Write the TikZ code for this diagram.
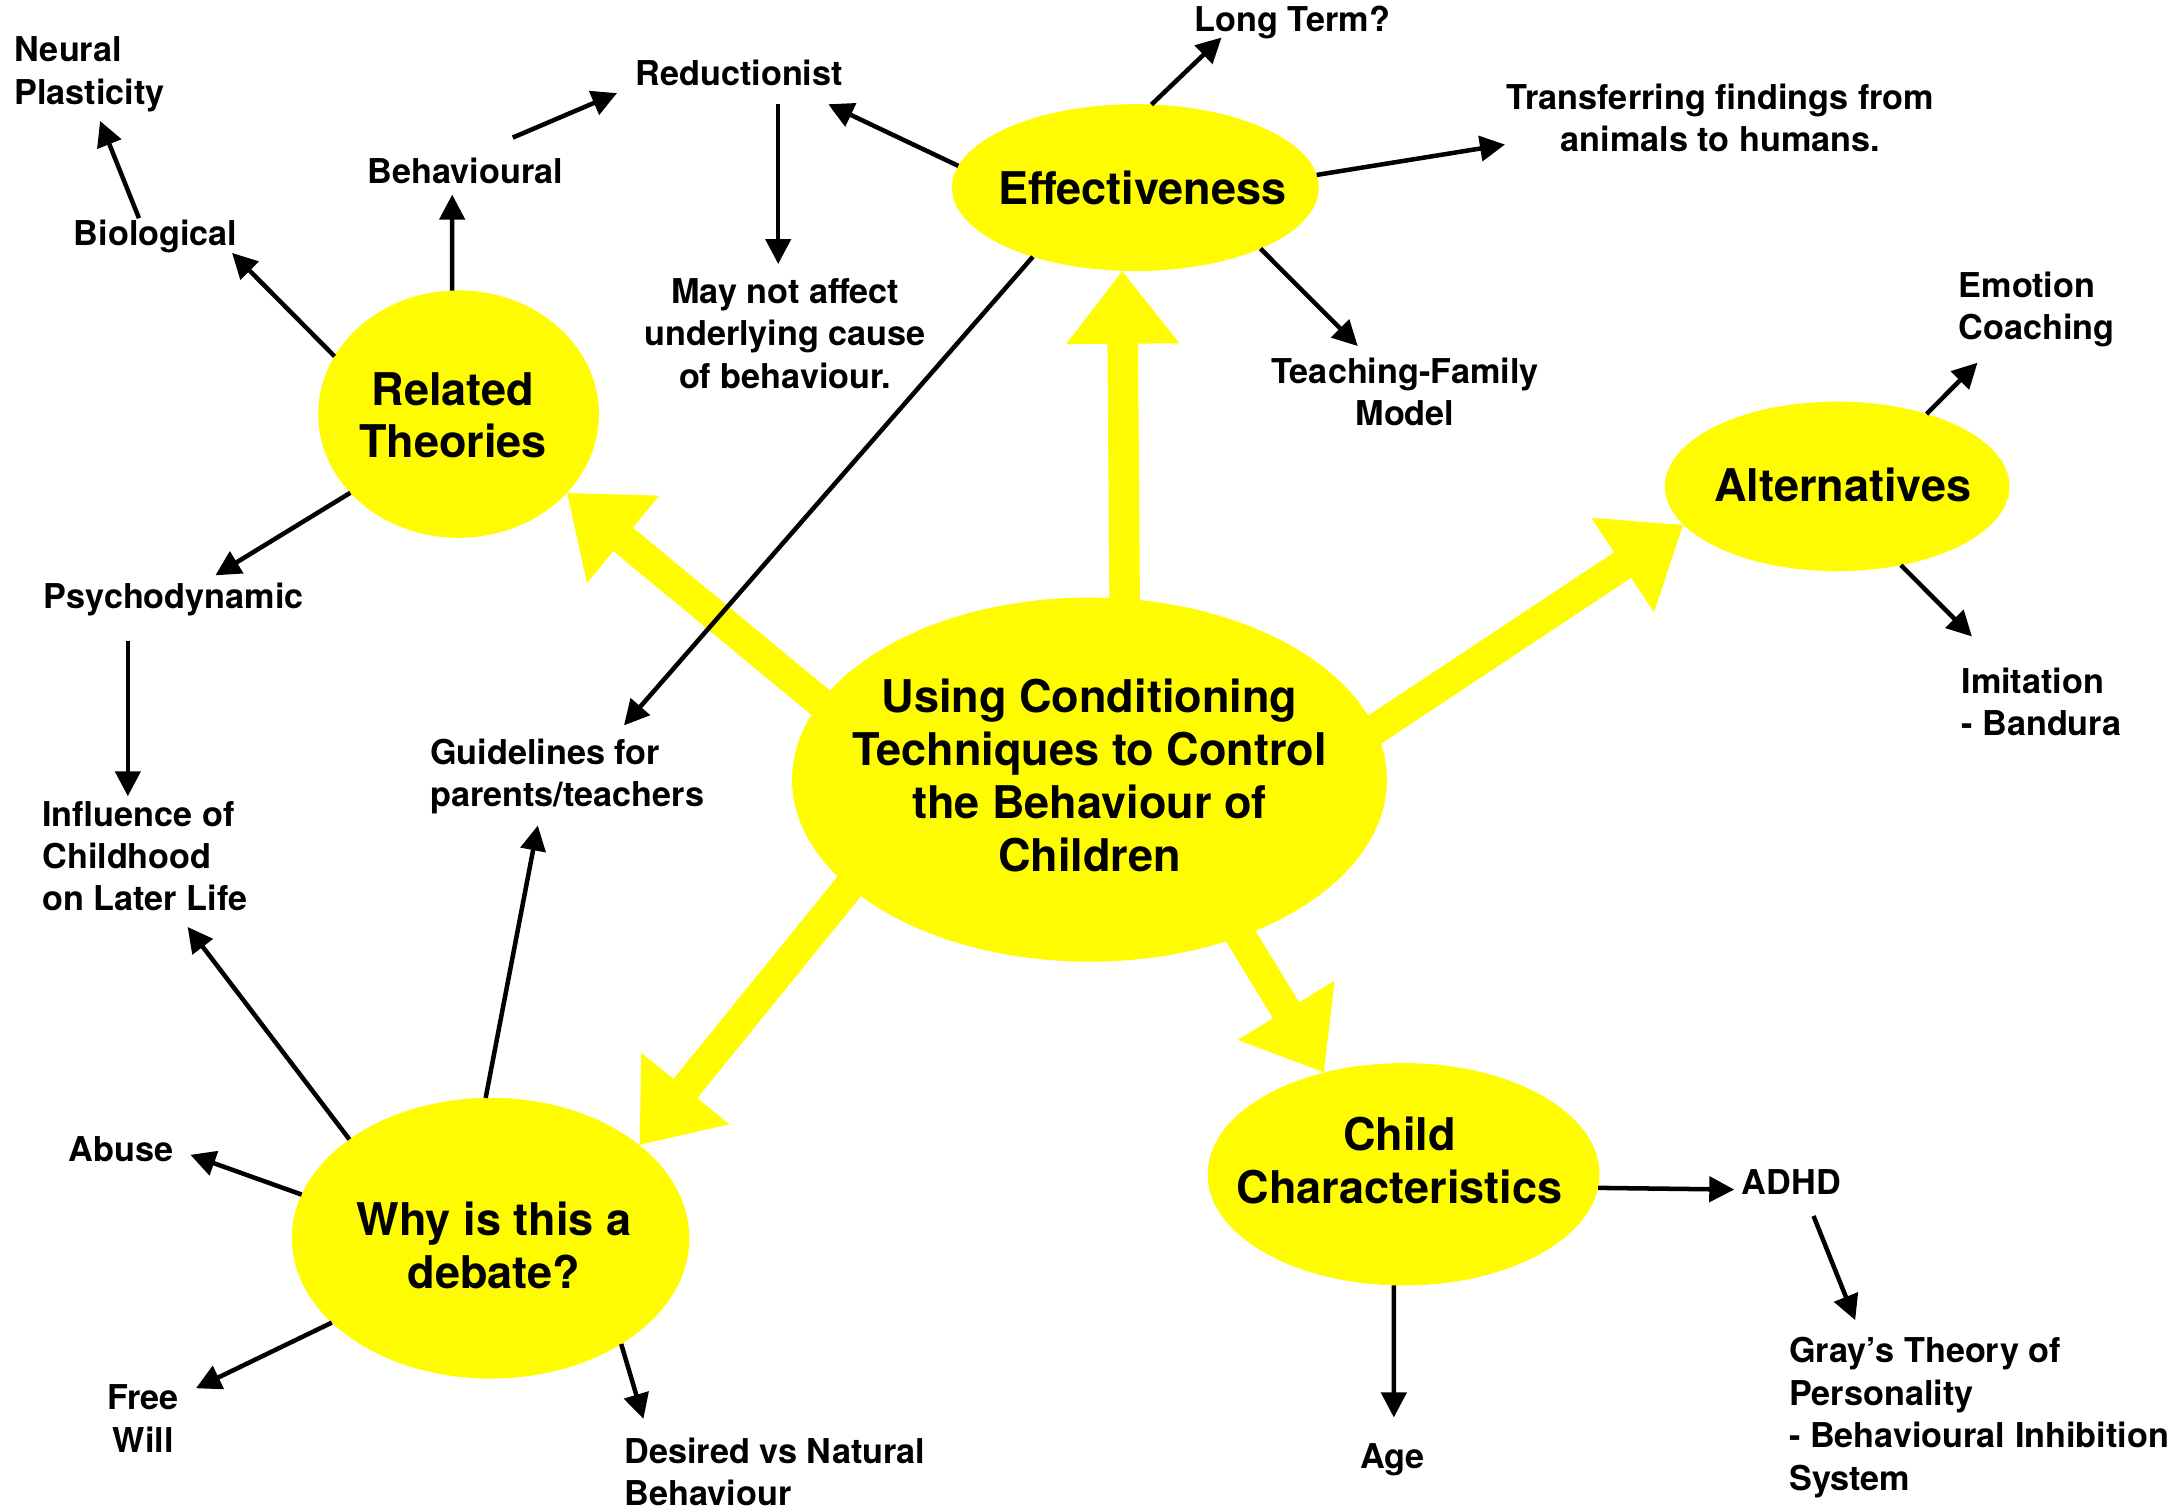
\documentclass[tikz,border=0pt]{standalone}
\usepackage{fontspec}
\setmainfont{TeX Gyre Heros}
\usetikzlibrary{arrows.meta,shapes.geometric}
\pgfdeclarelayer{background}
\pgfsetlayers{background,main}
\definecolor{hl}{RGB}{255,251,0}
\begin{document}
\begin{tikzpicture}[x=0.4pt,y=-0.4pt,
  bubble/.style={ellipse, fill=hl, inner sep=0pt, outer sep=0pt},
  bigtxt/.style={font=\fontsize{12.97}{15.2}\selectfont\bfseries, align=center, inner sep=0pt, anchor=north},
  lbl/.style={font=\fontsize{9.85}{12.2}\selectfont\bfseries, inner sep=0pt, text height=7.1pt, text depth=0pt},
  lblL/.style={font=\fontsize{9.85}{12.2}\selectfont\bfseries, inner sep=0pt, align=left, anchor=north west},
  lblC/.style={font=\fontsize{9.85}{12.2}\selectfont\bfseries, inner sep=0pt, align=center, anchor=north},
  arr/.style={-{Triangle[width=7.2pt,length=7.2pt]}, line width=1.3pt},
  bigarr/.style={-{Triangle[width=31.2pt,length=21pt]}, line width=8.8pt, draw=hl, shorten <=-14pt}
]
\useasboundingbox (0,0) rectangle (1568,1086.6);

% ellipses
\node[bubble, minimum width=171.2pt, minimum height=104.8pt] (main) at (784,561) {};
\node[bubble, minimum width=105.6pt, minimum height=48pt] (eff) at (817,135) {};
\node[bubble, minimum width=80.8pt, minimum height=71.2pt] (rt) at (330,298) {};
\node[bubble, minimum width=99.2pt, minimum height=48.8pt] (alt) at (1322,350) {};
\node[bubble, minimum width=114.4pt, minimum height=80.8pt] (why) at (353,891) {};
\node[bubble, minimum width=112.8pt, minimum height=64pt] (child) at (1010,845) {};

% ellipse texts
\node[bigtxt] (mainT) at (784,488.3) {Using Conditioning\\Techniques to Control\\the Behaviour of\\Children};
\node[bigtxt] (effT) at (822,122.3) {Effectiveness};
\node[bigtxt] (rtT) at (326,267.3) {Related\\Theories};
\node[bigtxt] (altT) at (1326,336.3) {Alternatives};
\node[bigtxt] (whyT) at (355.5,864.3) {Why is this a\\debate?};
\node[bigtxt] (childT) at (1007,803.3) {Child\\Characteristics};

% labels
\node[lblL] (np) at (10,26) {Neural\\Plasticity};
\node[lbl] (bio) at (112,168) {Biological};
\node[lbl] (beh) at (335,123) {Behavioural};
\node[lbl] (red) at (532,53) {Reductionist};
\node[lbl] (lt) at (930,14) {Long Term?};
\node[lblC] (tr) at (1238,60) {Transferring findings from\\animals to humans.};
\node[lblC] (may) at (565,200) {May not affect\\underlying cause\\of behaviour.};
\node[lblC] (tf) at (1011,257) {Teaching-Family\\Model};
\node[lblL] (ec) at (1409,195) {Emotion\\Coaching};
\node[lblL] (imi) at (1411,480) {Imitation\\- Bandura};
\node[lbl] (psy) at (125,429) {Psychodynamic};
\node[lblL] (gui) at (309,531) {Guidelines for\\parents/teachers};
\node[lblL] (inf) at (30,576) {Influence of\\Childhood\\on Later Life};
\node[lbl] (abuse) at (87,827) {Abuse};
\node[lblC] (fw) at (103,996) {Free\\Will};
\node[lblL] (des) at (449,1034) {Desired vs Natural\\Behaviour};
\node[lbl] (adhd) at (1289,851) {ADHD};
\node[lblL] (gray) at (1287,962) {Gray’s Theory of\\Personality\\- Behavioural Inhibition\\System};
\node[lbl] (age) at (1002,1048) {Age};

% big yellow arrows
\begin{pgfonlayer}{background}
\draw[bigarr] (main.79.9) -- (eff.-99.5);
\draw[bigarr] (main.164.4) -- (rt.-36.9);
\draw[bigarr] (main.10.8) -- (alt.-166);
\draw[bigarr] (main.-156.4) -- (why.32.5);
\draw[bigarr] (main.-46.2) -- (child.128.9);
\end{pgfonlayer}

% black arrows
\draw[arr] (rt.155) -- ([shift={(55,14)}]bio.center);
\draw[arr] ([shift={(-12,-11)}]bio.center) -- ([shift={(62,61)}]np.north west);
\draw[arr] (rt.93) -- ([shift={(-9.6,17)}]beh.center);
\draw[arr] ([shift={(34,-24)}]beh.center) -- ([shift={(-88,14)}]red.center);
\draw[arr] (eff.173.8) -- ([shift={(64,22)}]red.center);
\draw[arr] ([shift={(28,22)}]red.center) -- ([shift={(-5,-10)}]may.north);
\draw[arr] (eff.79.1) -- ([shift={(-51,13)}]lt.center);
\draw[arr] (eff.4.8) -- ([shift={(-155,44)}]tr.north);
\draw[arr] (eff.-26.1) -- ([shift={(-34,-8)}]tf.north);
\draw[arr] (eff.-146.8) -- ([shift={(140,-9)}]gui.north west);
\draw[arr] (alt.39.3) -- ([shift={(14,66)}]ec.north west);
\draw[arr] (alt.-51.1) -- ([shift={(8,-22)}]imi.north west);
\draw[arr] (rt.-144.5) -- ([shift={(30,-15)}]psy.center);
\draw[arr] ([shift={(-33,32)}]psy.center) -- ([shift={(62,-3)}]inf.north west);
\draw[arr] (why.145.9) -- ([shift={(105,91)}]inf.north west);
\draw[arr] (why.92.8) -- ([shift={(78,63)}]gui.north west);
\draw[arr] (why.167.4) -- ([shift={(50,4)}]abuse.center);
\draw[arr] (why.-152.1) -- ([shift={(38,3)}]fw.north);
\draw[arr] (why.-39.4) -- ([shift={(14,-13)}]des.north west);
\draw[arr] (child.-4.5) -- ([shift={(-41,5)}]adhd.center);
\draw[arr] ([shift={(16,24)}]adhd.center) -- ([shift={(48,-12)}]gray.north west);
\draw[arr] (child.-95) -- ([shift={(1,-28)}]age.center);
\end{tikzpicture}
\end{document}
